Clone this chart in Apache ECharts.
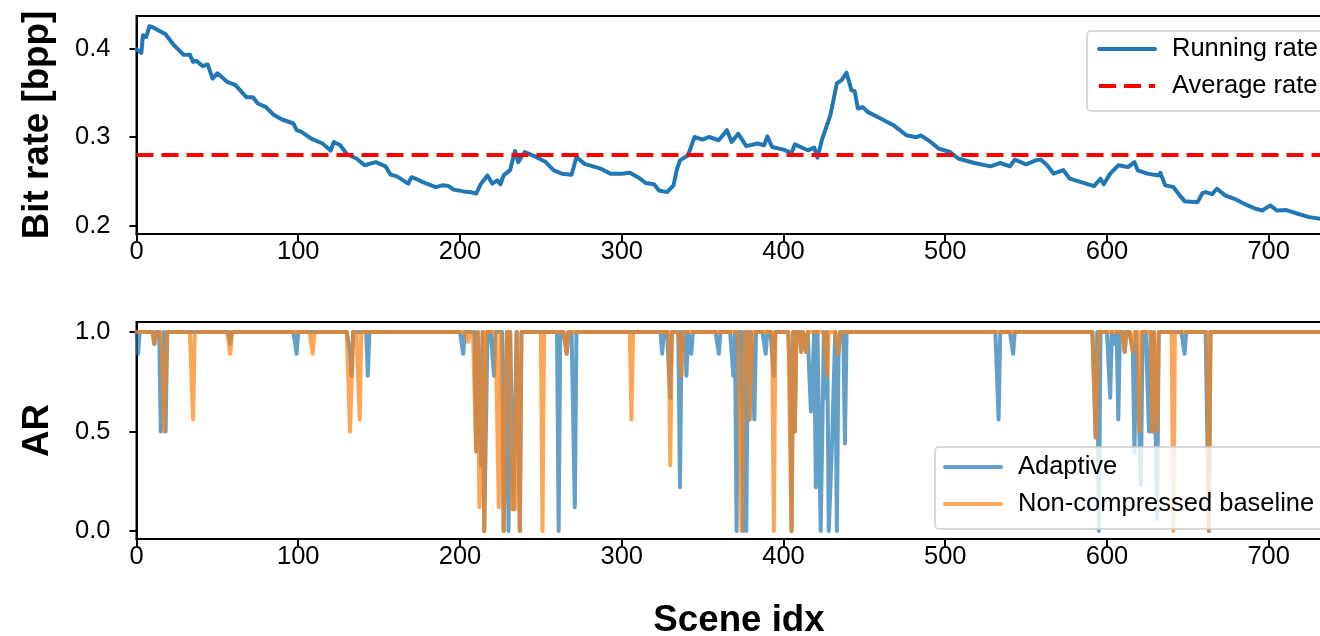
<!DOCTYPE html>
<html>
<head>
<meta charset="utf-8">
<script src="https://cdn.jsdelivr.net/npm/echarts@6/dist/echarts.min.js"></script>
<style>
  html, body { margin: 0; padding: 0; background: #ffffff; }
  #chart { width: 1320px; height: 636px; }
</style>
</head>
<body>
<div id="chart"></div>
<script>
// Tick labels
const sceneTicks = [0, 100, 200, 300, 400, 500, 600, 700];
const rateTicks = [0.2, 0.3, 0.4];
const arTicks = [0, 0.5, 1];

// Number of scenes (indices 0 .. lastScene)
const lastScene = 745;

// Running bit rate, sampled at these scene indices
const rateScene = [
  0, 3, 4, 6, 7, 8, 10, 14, 18, 23, 29, 33, 35, 37, 41, 44, 47, 50, 56, 61,
  64, 68, 72, 75, 80, 85, 90, 97, 99, 102, 108, 115, 120, 122, 126, 130, 136, 141, 148, 154,
  157, 161, 168, 170, 173, 177, 185, 189, 193, 196, 202, 207, 210, 213, 217, 220, 223, 225, 227, 231,
  234, 236, 240, 247, 253, 258, 263, 269, 272, 277, 287, 293, 300, 305, 310, 315, 320, 323, 328, 332,
  334, 336, 341, 343, 345, 350, 354, 360, 365, 368, 372, 377, 384, 388, 390, 393, 400, 405, 407, 415,
  419, 421, 424, 429, 433, 436, 439, 442, 444, 446, 449, 452, 460, 468, 476, 482, 485, 491, 496, 503,
  508, 518, 528, 534, 540, 543, 550, 556, 559, 563, 567, 573, 577, 584, 592, 596, 598, 602, 607, 613,
  617, 619, 625, 632, 633, 636, 641, 645, 648, 656, 659, 661, 665, 668, 673, 680, 687, 692, 696, 701,
  705, 711, 718, 725, 732, 740, 745
];
const runningRate = [
  0.399, 0.395, 0.415, 0.413, 0.411, 0.425, 0.424, 0.420, 0.416, 0.404, 0.393, 0.393, 0.385, 0.386, 0.380, 0.382, 0.366, 0.372, 0.3625, 0.359,
  0.353, 0.345, 0.345, 0.338, 0.334, 0.325, 0.320, 0.3155, 0.308, 0.306, 0.2985, 0.293, 0.285, 0.2947, 0.291, 0.281, 0.276, 0.2684, 0.272, 0.2672,
  0.258, 0.256, 0.2477, 0.255, 0.253, 0.2495, 0.2438, 0.2458, 0.245, 0.241, 0.239, 0.238, 0.2364, 0.2477, 0.257, 0.2477, 0.2514, 0.247, 0.257, 0.263,
  0.2845, 0.272, 0.2834, 0.2778, 0.272, 0.2627, 0.259, 0.2578, 0.2778, 0.270, 0.2646, 0.259, 0.259, 0.260, 0.255, 0.2484, 0.247, 0.240, 0.2382, 0.2458,
  0.263, 0.274, 0.2797, 0.290, 0.3003, 0.2974, 0.3003, 0.2966, 0.308, 0.2947, 0.304, 0.290, 0.293, 0.291, 0.301, 0.289, 0.286, 0.2823, 0.292, 0.2853,
  0.2883, 0.277, 0.2985, 0.325, 0.3607, 0.3644, 0.3727, 0.353, 0.352, 0.3324, 0.334, 0.3286, 0.3211, 0.3136, 0.3023, 0.300, 0.302, 0.2947, 0.2872, 0.2834,
  0.276, 0.271, 0.2672, 0.271, 0.2672, 0.2748, 0.2695, 0.274, 0.2748, 0.2684, 0.259, 0.263, 0.2533, 0.2495, 0.245, 0.2533, 0.247, 0.259, 0.2684, 0.2664,
  0.272, 0.2627, 0.259, 0.257, 0.260, 0.2458, 0.244, 0.2345, 0.228, 0.2269, 0.237, 0.2382, 0.236, 0.242, 0.2345, 0.2296, 0.2232, 0.2194, 0.2175, 0.2232,
  0.2175, 0.218, 0.2138, 0.210, 0.2081, 0.205, 0.203
];
const averageRate = 0.28;

// AR per scene is 1.0 except at these [scene, AR] entries
const adaptiveDips = [
  [1, 0.89], [11, 0.94], [15, 0.5], [16, 0.5], [18, 0.5], [58, 0.94], [99, 0.89], [132, 0.9], [133, 0.78], [143, 0.78],
  [202, 0.89], [210, 0.4], [213, 0.33], [215, 0], [216, 0], [221, 0.78], [227, 0], [228, 0], [230, 0], [233, 0.11],
  [234, 0.11], [237, 0], [261, 0], [266, 0.89], [271, 0.12],
  [325, 0.89], [330, 0.67], [336, 0.22], [340, 0.78], [343, 0.89], [360, 0.89], [369, 0.78], [371, 0], [375, 0], [377, 0],
  [379, 0.56], [382, 0.56], [389, 0.89], [394, 0.78], [404, 0.78], [405, 0], [407, 0.5], [411, 0.9], [414, 0.9], [416, 0.78],
  [417, 0.6], [418, 0.78], [420, 0.22], [423, 0], [424, 0], [426, 0.67], [428, 0], [429, 0], [430, 0.44], [431, 0.44],
  [433, 0], [434, 0.89], [438, 0.44],
  [533, 0.56], [542, 0.89], [593, 0.47], [595, 0], [602, 0.67], [605, 0.94], [607, 0.56], [611, 0.9], [616, 0.9], [617, 0.39],
  [620, 0.5], [621, 0.23], [626, 0.5], [628, 0.5], [631, 0.06], [648, 0.89], [663, 0]
];
const baselineDips = [
  [11, 0.94], [12, 0.94], [16, 0.85], [17, 0.5], [18, 0.5], [35, 0.56], [58, 0.89], [109, 0.89], [132, 0.5], [133, 0.5],
  [138, 0.56],
  [205, 0.95], [210, 0.4], [212, 0.12], [213, 0.33], [215, 0], [224, 0.12], [227, 0], [228, 0], [232, 0.11],
  [233, 0.11], [234, 0.11], [237, 0], [251, 0], [266, 0.89],
  [306, 0.56], [330, 0.33], [337, 0.78], [374, 0], [375, 0], [379, 0.56], [380, 0.56], [394, 0], [405, 0], [407, 0.5],
  [411, 0.9], [414, 0.9], [427, 0.78], [434, 0.89],
  [593, 0.47], [594, 0.47], [611, 0.9], [616, 0.9], [620, 0.5], [628, 0.5], [631, 0.5], [641, 0], [663, 0]
];

const FONT = '"Liberation Sans", Arial, Helvetica, sans-serif';
const BLUE = '#1f77b4';
const ORANGE = '#ff7f0e';

// Expand the sparse dip lists into one AR point per scene
function arPoints(dips) {
  const ar = [];
  for (let i = 0; i <= lastScene; i++) ar.push(1);
  dips.forEach(([i, v]) => { ar[i] = v; });
  return ar.map((v, i) => [i, v]);
}

const ratePoints = rateScene.map((s, i) => [s, runningRate[i]]);
const avgPoints = [[0, averageRate], [lastScene, averageRate]];

const axisLine = { show: true, onZero: false, lineStyle: { color: '#000', width: 2 } };
const axisTick = { show: true, inside: false, length: 7, lineStyle: { color: '#000', width: 2 } };
const tickFont = { color: '#000', fontSize: 25.5, fontFamily: FONT };
const nameFont = { color: '#000', fontSize: 36.7, fontWeight: 'bold', fontFamily: FONT };

function sceneAxis(gridIndex, withName) {
  return {
    type: 'value', gridIndex, min: 0, max: lastScene,
    axisLine, axisTick: Object.assign({ customValues: sceneTicks }, axisTick),
    axisLabel: Object.assign({ customValues: sceneTicks, margin: 5, formatter: v => String(v) }, tickFont),
    splitLine: { show: false },
    name: withName ? 'Scene idx' : '', nameLocation: 'middle', nameGap: 63,
    nameTextStyle: nameFont
  };
}

function legendBox(left, top, names, padding) {
  return {
    orient: 'vertical', left, top, data: names,
    itemWidth: 56, itemHeight: 14, itemGap: 9, padding,
    backgroundColor: 'rgba(255,255,255,0.8)', borderColor: '#cccccc', borderWidth: 1.5, borderRadius: 4,
    itemStyle: { opacity: 0 },
    lineStyle: { width: 4 },
    textStyle: { color: '#000', fontSize: 25.5, fontFamily: FONT, lineHeight: 28, padding: [0, 0, 0, 12] },
    selectedMode: false
  };
}

// Fixed plot boxes; labels and names are placed outside them freely
const gridBase = { left: 136.5, width: 1205, show: true, borderColor: '#000', borderWidth: 2, backgroundColor: 'transparent', containLabel: false, outerBoundsMode: 'none' };

const chart = echarts.init(document.getElementById('chart'), null, { renderer: 'canvas' });
chart.setOption({
  animation: false,
  backgroundColor: '#ffffff',
  grid: [
    Object.assign({ top: 16, height: 218 }, gridBase),
    Object.assign({ top: 322, height: 217 }, gridBase)
  ],
  xAxis: [sceneAxis(0, false), sceneAxis(1, true)],
  yAxis: [
    {
      type: 'value', gridIndex: 0, min: 0.191, max: 0.4366,
      axisLine, axisTick: Object.assign({ customValues: rateTicks }, axisTick),
      axisLabel: Object.assign({ customValues: rateTicks, margin: 26, formatter: v => v.toFixed(1) }, tickFont),
      splitLine: { show: false },
      name: 'Bit rate [bpp]', nameLocation: 'middle', nameGap: 80, nameTextStyle: nameFont
    },
    {
      type: 'value', gridIndex: 1, min: -0.04, max: 1.05,
      axisLine, axisTick: Object.assign({ customValues: arTicks }, axisTick),
      axisLabel: Object.assign({ customValues: arTicks, margin: 26, formatter: v => v.toFixed(1) }, tickFont),
      splitLine: { show: false },
      name: 'AR', nameLocation: 'middle', nameGap: 80, nameTextStyle: nameFont
    }
  ],
  legend: [
    legendBox(1087, 31, ['Running rate', 'Average rate'], [4, 10, 11, 10]),
    legendBox(935, 447, ['Adaptive', 'Non-compressed baseline'], [6, 10, 11, 8])
  ],
  series: [
    {
      name: 'Running rate', type: 'line', xAxisIndex: 0, yAxisIndex: 0, data: ratePoints,
      symbol: 'none', color: BLUE,
      lineStyle: { color: BLUE, width: 4, join: 'round', cap: 'round' }
    },
    {
      name: 'Average rate', type: 'line', xAxisIndex: 0, yAxisIndex: 0, data: avgPoints,
      symbol: 'none', color: '#ff0000',
      lineStyle: { color: '#ff0000', width: 4, type: [17, 8] }
    },
    {
      name: 'Adaptive', type: 'line', xAxisIndex: 1, yAxisIndex: 1, data: arPoints(adaptiveDips),
      symbol: 'none', color: BLUE,
      lineStyle: { color: BLUE, width: 4, opacity: 0.7, join: 'round', cap: 'round' }
    },
    {
      name: 'Non-compressed baseline', type: 'line', xAxisIndex: 1, yAxisIndex: 1, data: arPoints(baselineDips),
      symbol: 'none', color: ORANGE,
      lineStyle: { color: ORANGE, width: 4, opacity: 0.7, join: 'round', cap: 'round' }
    }
  ]
});
</script>
</body>
</html>
